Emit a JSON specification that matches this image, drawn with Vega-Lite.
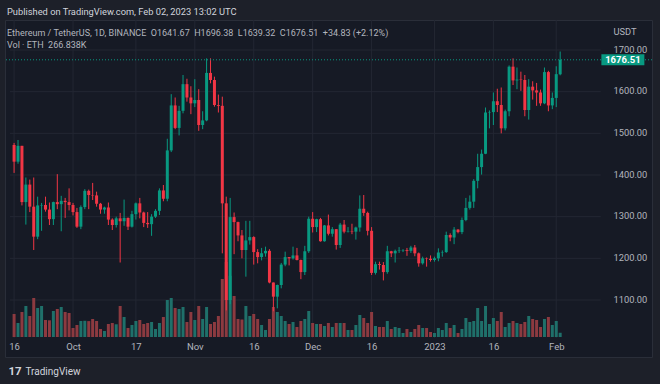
{
  "$schema": "https://vega.github.io/schema/vega-lite/v6.json",
  "width": 647,
  "height": 337,
  "autosize": {"type": "none"},
  "padding": {"left": 5, "top": 20, "right": 8, "bottom": 27},
  "background": "#1d2029",
  "config": {
    "font": "Roboto, sans-serif",
    "view": {"fill": "#161a25", "stroke": "#2a2e39", "strokeWidth": 1},
    "axis": {"domain": false, "ticks": false, "grid": false, "labelColor": "#b2b5be", "labelFontSize": 9.3, "titleColor": "#d1d4dc", "titleFontWeight": "normal"}
  },
  "title": {
    "text": "Published on TradingView.com, Feb 02, 2023 13:02 UTC",
    "subtitle": ["\u2003Ethereum / TetherUS, 1D, BINANCE \u00a0O1641.67 \u00a0H1696.38 \u00a0L1639.32 \u00a0C1676.51 \u00a0+34.83 (+2.12%)", "\u2003Vol · ETH \u00a0266.838K"],
    "anchor": "start",
    "frame": "group",
    "offset": -30,
    "dx": 2,
    "fontSize": 9.3,
    "fontWeight": "normal",
    "color": "#d1d4dc",
    "subtitleFontSize": 9,
    "subtitleColor": "#b2b5be",
    "subtitlePadding": 11,
    "subtitleLineHeight": 12
  },
  "datasets": {
    "candles": [
      {"date": "2022-09-16", "open": 1472, "high": 1477, "low": 1405, "close": 1432, "volume_k": 1447},
      {"date": "2022-09-17", "open": 1432, "high": 1484, "low": 1427, "close": 1470, "volume_k": 881},
      {"date": "2022-09-18", "open": 1470, "high": 1470, "low": 1327, "close": 1335, "volume_k": 1573},
      {"date": "2022-09-19", "open": 1335, "high": 1394, "low": 1281, "close": 1377, "volume_k": 1950},
      {"date": "2022-09-20", "open": 1377, "high": 1389, "low": 1311, "close": 1324, "volume_k": 1321},
      {"date": "2022-09-21", "open": 1324, "high": 1394, "low": 1220, "close": 1252, "volume_k": 2453},
      {"date": "2022-09-22", "open": 1252, "high": 1348, "low": 1246, "close": 1327, "volume_k": 1824},
      {"date": "2022-09-23", "open": 1327, "high": 1333, "low": 1266, "close": 1328, "volume_k": 1950},
      {"date": "2022-09-24", "open": 1328, "high": 1348, "low": 1312, "close": 1317, "volume_k": 1069},
      {"date": "2022-09-25", "open": 1317, "high": 1334, "low": 1280, "close": 1294, "volume_k": 1050},
      {"date": "2022-09-26", "open": 1294, "high": 1336, "low": 1280, "close": 1335, "volume_k": 1635},
      {"date": "2022-09-27", "open": 1335, "high": 1402, "low": 1318, "close": 1330, "volume_k": 1761},
      {"date": "2022-09-28", "open": 1330, "high": 1350, "low": 1265, "close": 1338, "volume_k": 1887},
      {"date": "2022-09-29", "open": 1338, "high": 1345, "low": 1297, "close": 1335, "volume_k": 1573},
      {"date": "2022-09-30", "open": 1335, "high": 1368, "low": 1315, "close": 1328, "volume_k": 1510},
      {"date": "2022-10-01", "open": 1328, "high": 1333, "low": 1303, "close": 1311, "volume_k": 566},
      {"date": "2022-10-02", "open": 1311, "high": 1321, "low": 1273, "close": 1276, "volume_k": 755},
      {"date": "2022-10-03", "open": 1276, "high": 1327, "low": 1270, "close": 1323, "volume_k": 1006},
      {"date": "2022-10-04", "open": 1323, "high": 1366, "low": 1318, "close": 1362, "volume_k": 1020},
      {"date": "2022-10-05", "open": 1362, "high": 1365, "low": 1318, "close": 1352, "volume_k": 1000},
      {"date": "2022-10-06", "open": 1352, "high": 1381, "low": 1340, "close": 1351, "volume_k": 1132},
      {"date": "2022-10-07", "open": 1351, "high": 1360, "low": 1324, "close": 1331, "volume_k": 1006},
      {"date": "2022-10-08", "open": 1331, "high": 1333, "low": 1307, "close": 1317, "volume_k": 503},
      {"date": "2022-10-09", "open": 1317, "high": 1324, "low": 1307, "close": 1322, "volume_k": 377},
      {"date": "2022-10-10", "open": 1322, "high": 1334, "low": 1280, "close": 1293, "volume_k": 818},
      {"date": "2022-10-11", "open": 1293, "high": 1296, "low": 1268, "close": 1280, "volume_k": 881},
      {"date": "2022-10-12", "open": 1280, "high": 1300, "low": 1274, "close": 1296, "volume_k": 800},
      {"date": "2022-10-13", "open": 1296, "high": 1309, "low": 1190, "close": 1289, "volume_k": 1950},
      {"date": "2022-10-14", "open": 1289, "high": 1341, "low": 1278, "close": 1297, "volume_k": 1258},
      {"date": "2022-10-15", "open": 1297, "high": 1298, "low": 1268, "close": 1276, "volume_k": 566},
      {"date": "2022-10-16", "open": 1276, "high": 1314, "low": 1274, "close": 1306, "volume_k": 755},
      {"date": "2022-10-17", "open": 1306, "high": 1334, "low": 1293, "close": 1332, "volume_k": 1006},
      {"date": "2022-10-18", "open": 1332, "high": 1345, "low": 1296, "close": 1310, "volume_k": 1069},
      {"date": "2022-10-19", "open": 1310, "high": 1312, "low": 1275, "close": 1285, "volume_k": 818},
      {"date": "2022-10-20", "open": 1285, "high": 1311, "low": 1273, "close": 1282, "volume_k": 881},
      {"date": "2022-10-21", "open": 1282, "high": 1306, "low": 1254, "close": 1300, "volume_k": 944},
      {"date": "2022-10-22", "open": 1300, "high": 1318, "low": 1297, "close": 1314, "volume_k": 503},
      {"date": "2022-10-23", "open": 1314, "high": 1368, "low": 1304, "close": 1363, "volume_k": 881},
      {"date": "2022-10-24", "open": 1363, "high": 1376, "low": 1337, "close": 1343, "volume_k": 1258},
      {"date": "2022-10-25", "open": 1343, "high": 1487, "low": 1337, "close": 1459, "volume_k": 2327},
      {"date": "2022-10-26", "open": 1459, "high": 1594, "low": 1455, "close": 1567, "volume_k": 2453},
      {"date": "2022-10-27", "open": 1567, "high": 1586, "low": 1510, "close": 1513, "volume_k": 1824},
      {"date": "2022-10-28", "open": 1513, "high": 1566, "low": 1495, "close": 1554, "volume_k": 1761},
      {"date": "2022-10-29", "open": 1554, "high": 1640, "low": 1548, "close": 1618, "volume_k": 1887},
      {"date": "2022-10-30", "open": 1618, "high": 1631, "low": 1576, "close": 1586, "volume_k": 944},
      {"date": "2022-10-31", "open": 1586, "high": 1613, "low": 1546, "close": 1572, "volume_k": 1573},
      {"date": "2022-11-01", "open": 1572, "high": 1630, "low": 1563, "close": 1580, "volume_k": 1069},
      {"date": "2022-11-02", "open": 1580, "high": 1606, "low": 1506, "close": 1520, "volume_k": 1950},
      {"date": "2022-11-03", "open": 1520, "high": 1553, "low": 1510, "close": 1531, "volume_k": 1132},
      {"date": "2022-11-04", "open": 1531, "high": 1680, "low": 1529, "close": 1645, "volume_k": 1887},
      {"date": "2022-11-05", "open": 1645, "high": 1680, "low": 1620, "close": 1628, "volume_k": 818},
      {"date": "2022-11-06", "open": 1628, "high": 1636, "low": 1564, "close": 1568, "volume_k": 944},
      {"date": "2022-11-07", "open": 1568, "high": 1593, "low": 1550, "close": 1566, "volume_k": 1321},
      {"date": "2022-11-08", "open": 1566, "high": 1588, "low": 1212, "close": 1332, "volume_k": 3650},
      {"date": "2022-11-09", "open": 1332, "high": 1348, "low": 1075, "close": 1100, "volume_k": 4718},
      {"date": "2022-11-10", "open": 1100, "high": 1345, "low": 1090, "close": 1299, "volume_k": 3850},
      {"date": "2022-11-11", "open": 1299, "high": 1310, "low": 1210, "close": 1287, "volume_k": 2579},
      {"date": "2022-11-12", "open": 1287, "high": 1288, "low": 1241, "close": 1255, "volume_k": 1132},
      {"date": "2022-11-13", "open": 1255, "high": 1268, "low": 1200, "close": 1220, "volume_k": 1100},
      {"date": "2022-11-14", "open": 1220, "high": 1290, "low": 1156, "close": 1243, "volume_k": 1950},
      {"date": "2022-11-15", "open": 1243, "high": 1290, "low": 1233, "close": 1251, "volume_k": 1321},
      {"date": "2022-11-16", "open": 1251, "high": 1253, "low": 1185, "close": 1215, "volume_k": 1447},
      {"date": "2022-11-17", "open": 1215, "high": 1222, "low": 1188, "close": 1203, "volume_k": 1132},
      {"date": "2022-11-18", "open": 1203, "high": 1225, "low": 1195, "close": 1212, "volume_k": 755},
      {"date": "2022-11-19", "open": 1212, "high": 1228, "low": 1204, "close": 1218, "volume_k": 440},
      {"date": "2022-11-20", "open": 1218, "high": 1222, "low": 1140, "close": 1142, "volume_k": 1132},
      {"date": "2022-11-21", "open": 1142, "high": 1142, "low": 1073, "close": 1108, "volume_k": 1887},
      {"date": "2022-11-22", "open": 1108, "high": 1137, "low": 1080, "close": 1136, "volume_k": 1573},
      {"date": "2022-11-23", "open": 1136, "high": 1189, "low": 1128, "close": 1185, "volume_k": 1321},
      {"date": "2022-11-24", "open": 1185, "high": 1216, "low": 1181, "close": 1203, "volume_k": 1006},
      {"date": "2022-11-25", "open": 1203, "high": 1203, "low": 1183, "close": 1200, "volume_k": 818},
      {"date": "2022-11-26", "open": 1200, "high": 1228, "low": 1197, "close": 1207, "volume_k": 944},
      {"date": "2022-11-27", "open": 1207, "high": 1225, "low": 1195, "close": 1196, "volume_k": 629},
      {"date": "2022-11-28", "open": 1196, "high": 1197, "low": 1150, "close": 1167, "volume_k": 1006},
      {"date": "2022-11-29", "open": 1167, "high": 1230, "low": 1160, "close": 1217, "volume_k": 1132},
      {"date": "2022-11-30", "open": 1217, "high": 1300, "low": 1213, "close": 1295, "volume_k": 1635},
      {"date": "2022-12-01", "open": 1295, "high": 1311, "low": 1262, "close": 1275, "volume_k": 881},
      {"date": "2022-12-02", "open": 1275, "high": 1295, "low": 1263, "close": 1294, "volume_k": 818},
      {"date": "2022-12-03", "open": 1294, "high": 1297, "low": 1240, "close": 1241, "volume_k": 818},
      {"date": "2022-12-04", "open": 1241, "high": 1280, "low": 1240, "close": 1279, "volume_k": 692},
      {"date": "2022-12-05", "open": 1279, "high": 1305, "low": 1255, "close": 1259, "volume_k": 881},
      {"date": "2022-12-06", "open": 1259, "high": 1275, "low": 1252, "close": 1270, "volume_k": 629},
      {"date": "2022-12-07", "open": 1270, "high": 1270, "low": 1221, "close": 1232, "volume_k": 881},
      {"date": "2022-12-08", "open": 1232, "high": 1285, "low": 1225, "close": 1281, "volume_k": 881},
      {"date": "2022-12-09", "open": 1281, "high": 1292, "low": 1260, "close": 1264, "volume_k": 881},
      {"date": "2022-12-10", "open": 1264, "high": 1275, "low": 1262, "close": 1265, "volume_k": 440},
      {"date": "2022-12-11", "open": 1265, "high": 1283, "low": 1258, "close": 1264, "volume_k": 440},
      {"date": "2022-12-12", "open": 1264, "high": 1276, "low": 1245, "close": 1274, "volume_k": 755},
      {"date": "2022-12-13", "open": 1274, "high": 1351, "low": 1264, "close": 1319, "volume_k": 1384},
      {"date": "2022-12-14", "open": 1319, "high": 1352, "low": 1302, "close": 1309, "volume_k": 1195},
      {"date": "2022-12-15", "open": 1309, "high": 1312, "low": 1255, "close": 1266, "volume_k": 881},
      {"date": "2022-12-16", "open": 1266, "high": 1275, "low": 1160, "close": 1165, "volume_k": 1573},
      {"date": "2022-12-17", "open": 1165, "high": 1192, "low": 1161, "close": 1186, "volume_k": 692},
      {"date": "2022-12-18", "open": 1186, "high": 1192, "low": 1173, "close": 1184, "volume_k": 629},
      {"date": "2022-12-19", "open": 1184, "high": 1191, "low": 1147, "close": 1167, "volume_k": 629},
      {"date": "2022-12-20", "open": 1167, "high": 1230, "low": 1163, "close": 1217, "volume_k": 1006},
      {"date": "2022-12-21", "open": 1217, "high": 1218, "low": 1203, "close": 1212, "volume_k": 503},
      {"date": "2022-12-22", "open": 1212, "high": 1221, "low": 1190, "close": 1218, "volume_k": 629},
      {"date": "2022-12-23", "open": 1218, "high": 1227, "low": 1213, "close": 1219, "volume_k": 566},
      {"date": "2022-12-24", "open": 1219, "high": 1222, "low": 1215, "close": 1220, "volume_k": 252},
      {"date": "2022-12-25", "open": 1220, "high": 1225, "low": 1206, "close": 1218, "volume_k": 503},
      {"date": "2022-12-26", "open": 1218, "high": 1230, "low": 1213, "close": 1226, "volume_k": 315},
      {"date": "2022-12-27", "open": 1226, "high": 1232, "low": 1205, "close": 1212, "volume_k": 503},
      {"date": "2022-12-28", "open": 1212, "high": 1214, "low": 1180, "close": 1188, "volume_k": 755},
      {"date": "2022-12-29", "open": 1188, "high": 1204, "low": 1185, "close": 1200, "volume_k": 566},
      {"date": "2022-12-30", "open": 1200, "high": 1202, "low": 1180, "close": 1199, "volume_k": 566},
      {"date": "2022-12-31", "open": 1199, "high": 1207, "low": 1192, "close": 1196, "volume_k": 315},
      {"date": "2023-01-01", "open": 1196, "high": 1204, "low": 1192, "close": 1200, "volume_k": 252},
      {"date": "2023-01-02", "open": 1200, "high": 1224, "low": 1193, "close": 1214, "volume_k": 566},
      {"date": "2023-01-03", "open": 1214, "high": 1219, "low": 1204, "close": 1215, "volume_k": 440},
      {"date": "2023-01-04", "open": 1215, "high": 1264, "low": 1213, "close": 1256, "volume_k": 881},
      {"date": "2023-01-05", "open": 1256, "high": 1260, "low": 1241, "close": 1250, "volume_k": 566},
      {"date": "2023-01-06", "open": 1250, "high": 1275, "low": 1234, "close": 1269, "volume_k": 755},
      {"date": "2023-01-07", "open": 1269, "high": 1270, "low": 1260, "close": 1263, "volume_k": 252},
      {"date": "2023-01-08", "open": 1263, "high": 1298, "low": 1258, "close": 1292, "volume_k": 503},
      {"date": "2023-01-09", "open": 1292, "high": 1345, "low": 1289, "close": 1321, "volume_k": 1195},
      {"date": "2023-01-10", "open": 1321, "high": 1351, "low": 1317, "close": 1336, "volume_k": 944},
      {"date": "2023-01-11", "open": 1336, "high": 1390, "low": 1321, "close": 1386, "volume_k": 1006},
      {"date": "2023-01-12", "open": 1386, "high": 1451, "low": 1368, "close": 1419, "volume_k": 1824},
      {"date": "2023-01-13", "open": 1419, "high": 1461, "low": 1401, "close": 1451, "volume_k": 1006},
      {"date": "2023-01-14", "open": 1451, "high": 1562, "low": 1450, "close": 1550, "volume_k": 1950},
      {"date": "2023-01-15", "open": 1550, "high": 1555, "low": 1512, "close": 1551, "volume_k": 818},
      {"date": "2023-01-16", "open": 1551, "high": 1598, "low": 1520, "close": 1577, "volume_k": 1195},
      {"date": "2023-01-17", "open": 1577, "high": 1607, "low": 1551, "close": 1568, "volume_k": 1006},
      {"date": "2023-01-18", "open": 1568, "high": 1610, "low": 1500, "close": 1512, "volume_k": 1573},
      {"date": "2023-01-19", "open": 1512, "high": 1557, "low": 1507, "close": 1553, "volume_k": 629},
      {"date": "2023-01-20", "open": 1553, "high": 1663, "low": 1541, "close": 1660, "volume_k": 881},
      {"date": "2023-01-21", "open": 1660, "high": 1680, "low": 1616, "close": 1627, "volume_k": 1006},
      {"date": "2023-01-22", "open": 1627, "high": 1658, "low": 1606, "close": 1629, "volume_k": 881},
      {"date": "2023-01-23", "open": 1629, "high": 1648, "low": 1602, "close": 1628, "volume_k": 818},
      {"date": "2023-01-24", "open": 1628, "high": 1640, "low": 1541, "close": 1556, "volume_k": 944},
      {"date": "2023-01-25", "open": 1556, "high": 1630, "low": 1533, "close": 1612, "volume_k": 1321},
      {"date": "2023-01-26", "open": 1612, "high": 1625, "low": 1581, "close": 1603, "volume_k": 1132},
      {"date": "2023-01-27", "open": 1603, "high": 1621, "low": 1566, "close": 1598, "volume_k": 1069},
      {"date": "2023-01-28", "open": 1598, "high": 1605, "low": 1566, "close": 1572, "volume_k": 629},
      {"date": "2023-01-29", "open": 1572, "high": 1658, "low": 1570, "close": 1647, "volume_k": 1132},
      {"date": "2023-01-30", "open": 1647, "high": 1650, "low": 1553, "close": 1567, "volume_k": 1258},
      {"date": "2023-01-31", "open": 1567, "high": 1598, "low": 1558, "close": 1585, "volume_k": 755},
      {"date": "2023-02-01", "open": 1585, "high": 1661, "low": 1563, "close": 1642, "volume_k": 1006},
      {"date": "2023-02-02", "open": 1641.67, "high": 1696.38, "low": 1639.32, "close": 1676.51, "volume_k": 266.838}
    ],
    "levels": [{"level": 1100}, {"level": 1200}, {"level": 1300}, {"level": 1400}, {"level": 1500}, {"level": 1600}, {"level": 1700}],
    "ticks": [{"date": "2022-09-16"}, {"date": "2022-10-01"}, {"date": "2022-10-17"}, {"date": "2022-11-01"}, {"date": "2022-11-16"}, {"date": "2022-12-01"}, {"date": "2022-12-16"}, {"date": "2023-01-01"}, {"date": "2023-01-16"}, {"date": "2023-02-01"}],
    "last": [{"date": "2023-02-02", "close": 1676.51}]
  },
  "layer": [
    {
      "data": {"name": "levels"},
      "mark": {"type": "rule", "color": "#232733", "strokeWidth": 1},
      "encoding": {
        "y": {"field": "level", "type": "quantitative", "scale": {"domain": [963.2, 1772]}, "axis": null},
        "x": {"datum": {"year": 2022, "month": 9, "date": 14, "hours": 23, "minutes": 2, "utc": true}, "type": "temporal", "scale": {"type": "utc", "domain": [{"year": 2022, "month": 9, "date": 14, "hours": 23, "minutes": 2, "utc": true}, {"year": 2023, "month": 2, "date": 24, "hours": 2, "minutes": 24, "utc": true}]}},
        "x2": {"datum": {"year": 2023, "month": 2, "date": 12, "hours": 7, "minutes": 40, "utc": true}}
      }
    },
    {
      "data": {"name": "ticks"},
      "mark": {"type": "rule", "color": "#232733", "strokeWidth": 1},
      "encoding": {
        "x": {"field": "date", "type": "temporal", "scale": {"type": "utc", "domain": [{"year": 2022, "month": 9, "date": 14, "hours": 23, "minutes": 2, "utc": true}, {"year": 2023, "month": 2, "date": 24, "hours": 2, "minutes": 24, "utc": true}]}},
        "y": {"datum": 1008.8, "type": "quantitative", "scale": {"domain": [963.2, 1772]}, "axis": null},
        "y2": {"datum": 1772}
      }
    },
    {
      "data": {"name": "candles"},
      "mark": {"type": "bar", "width": 3},
      "encoding": {
        "x": {
          "field": "date", "type": "temporal",
          "scale": {"type": "utc", "domain": [{"year": 2022, "month": 9, "date": 14, "hours": 23, "minutes": 2, "utc": true}, {"year": 2023, "month": 2, "date": 24, "hours": 2, "minutes": 24, "utc": true}]},
          "axis": {
            "orient": "bottom", "offset": -19, "labelPadding": 3, "labelFontSize": 9.5,
            "values": [
              {"year": 2022, "month": 9, "date": 16, "utc": true},
              {"year": 2022, "month": 10, "date": 1, "utc": true},
              {"year": 2022, "month": 10, "date": 17, "utc": true},
              {"year": 2022, "month": 11, "date": 1, "utc": true},
              {"year": 2022, "month": 11, "date": 16, "utc": true},
              {"year": 2022, "month": 12, "date": 1, "utc": true},
              {"year": 2022, "month": 12, "date": 16, "utc": true},
              {"year": 2023, "month": 1, "date": 1, "utc": true},
              {"year": 2023, "month": 1, "date": 16, "utc": true},
              {"year": 2023, "month": 2, "date": 1, "utc": true}
            ],
            "labelExpr": "utcdate(datum.value) == 1 ? (utcmonth(datum.value) == 0 ? utcFormat(datum.value, '%Y') : utcFormat(datum.value, '%b')) : utcFormat(datum.value, '%d')",
            "labelFlush": false, "labelOverlap": false,
            "title": "TradingView", "titleX": 20, "titleY": 33, "titleAlign": "left", "titleBaseline": "middle", "titleFontSize": 10, "titleColor": "#d1d4dc"
          }
        },
        "y": {
          "field": "volume_k", "type": "quantitative",
          "scale": {"domain": [-1258, 19940]},
          "axis": {"orient": "left", "labels": false, "title": "17", "titleAngle": 0, "titleX": 3, "titleY": 351, "titleAlign": "left", "titleBaseline": "middle", "titleFontSize": 11.5, "titleFontWeight": "bold", "titleColor": "#d1d4dc"}
        },
        "y2": {"datum": 0},
        "color": {"condition": {"test": "datum.close >= datum.open", "value": "#1f706a"}, "value": "#8c3a40"}
      }
    },
    {
      "layer": [
        {
          "data": {"name": "candles"},
          "mark": {"type": "rule", "strokeWidth": 1},
          "encoding": {
            "x": {"field": "date", "type": "temporal", "scale": {"type": "utc", "domain": [{"year": 2022, "month": 9, "date": 14, "hours": 23, "minutes": 2, "utc": true}, {"year": 2023, "month": 2, "date": 24, "hours": 2, "minutes": 24, "utc": true}]}},
            "y": {"field": "low", "type": "quantitative", "scale": {"domain": [963.2, 1772]}},
            "y2": {"field": "high"},
            "color": {"condition": {"test": "datum.close >= datum.open", "value": "#089981"}, "value": "#f23645"}
          }
        },
        {
          "data": {"name": "candles"},
          "mark": {"type": "bar", "width": 3},
          "encoding": {
            "x": {"field": "date", "type": "temporal", "scale": {"type": "utc", "domain": [{"year": 2022, "month": 9, "date": 14, "hours": 23, "minutes": 2, "utc": true}, {"year": 2023, "month": 2, "date": 24, "hours": 2, "minutes": 24, "utc": true}]}},
            "y": {
              "field": "open", "type": "quantitative", "scale": {"domain": [963.2, 1772]},
              "axis": {"orient": "right", "offset": -47, "labelPadding": 8, "labelAlign": "left", "labelFontSize": 9.3, "labelOffset": -1, "format": ".2f", "values": [1100, 1200, 1300, 1400, 1500, 1600, 1700], "title": "USDT", "titleAngle": 0, "titleX": 8, "titleY": 11, "titleAlign": "left", "titleBaseline": "middle", "titleFontSize": 9.3, "titleColor": "#b2b5be"}
            },
            "y2": {"field": "close"},
            "color": {"condition": {"test": "datum.close >= datum.open", "value": "#089981"}, "value": "#f23645"}
          }
        },
        {
          "data": {"name": "last"},
          "mark": {"type": "rule", "strokeDash": [1, 2], "color": "#089981", "strokeWidth": 1},
          "encoding": {
            "y": {"field": "close", "type": "quantitative", "scale": {"domain": [963.2, 1772]}}
          }
        },
        {
          "data": {"name": "last"},
          "mark": {"type": "point", "shape": "M4.12,-0.55H8.42V0.55H4.12Z", "size": 400, "filled": true, "opacity": 1, "color": "#089981", "strokeWidth": 0},
          "encoding": {
            "x": {"field": "date", "type": "temporal", "scale": {"type": "utc", "domain": [{"year": 2022, "month": 9, "date": 14, "hours": 23, "minutes": 2, "utc": true}, {"year": 2023, "month": 2, "date": 24, "hours": 2, "minutes": 24, "utc": true}]}},
            "y": {"field": "close", "type": "quantitative", "scale": {"domain": [963.2, 1772]}}
          }
        },
        {
          "data": {"name": "last"},
          "mark": {"type": "text", "dx": 62.7, "color": "#ffffff", "fontSize": 9.5, "fontWeight": "bold", "align": "center", "baseline": "middle"},
          "encoding": {
            "x": {"field": "date", "type": "temporal", "scale": {"type": "utc", "domain": [{"year": 2022, "month": 9, "date": 14, "hours": 23, "minutes": 2, "utc": true}, {"year": 2023, "month": 2, "date": 24, "hours": 2, "minutes": 24, "utc": true}]}},
            "y": {"field": "close", "type": "quantitative", "scale": {"domain": [963.2, 1772]}},
            "text": {"field": "close", "type": "quantitative", "format": ".2f"}
          }
        }
      ]
    }
  ],
  "resolve": {"scale": {"y": "independent"}}
}
